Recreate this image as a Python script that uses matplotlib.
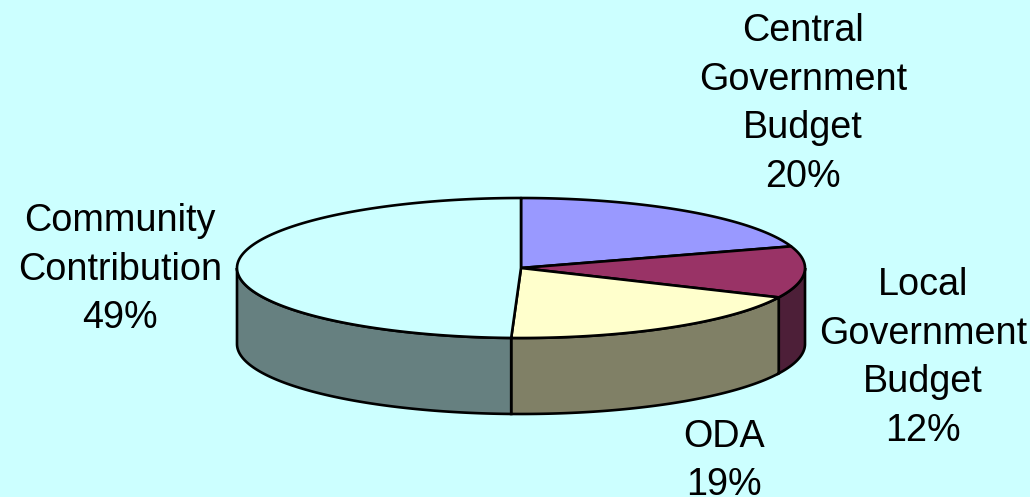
import numpy as np
import matplotlib
matplotlib.use("Agg")
import matplotlib.pyplot as plt
from matplotlib.patches import Polygon

categories = ["Central\nGovernment\nBudget", "Local\nGovernment\nBudget", "ODA", "Community\nContribution"]
values = [20.0, 11.9, 18.65, 49.45]
top_colors = ["#9999FF", "#993366", "#FFFFCC", "#CCFFFF"]
side_colors = ["#5F5F9F", "#4D1F38", "#808066", "#668080"]
label_xy = [(803, 104), (923, 358), (724, 461), (120, 269.5)]

BG = "#CCFFFF"
CX, CY, RX, RY, DEPTH = 521, 268, 284, 70, 76

fig = plt.figure(figsize=(10.30, 4.97), dpi=100, facecolor=BG)
ax = fig.add_axes([0, 0, 1, 1])
ax.set_xlim(0, 1030)
ax.set_ylim(497, 0)
ax.axis("off")
plt.rcParams["font.family"] = ["Liberation Sans", "DejaVu Sans"]


def pt(deg, dy=0):
    a = np.radians(deg)
    return CX + RX * np.cos(a), CY - RY * np.sin(a) + dy


fracs = np.array(values) / sum(values) * 360
ends = 90 - np.cumsum(fracs)
starts = np.r_[90, ends[:-1]]

# sides (visible front half only: angles between 0 and -180)
for s, e, c in zip(starts, ends, side_colors):
    hi, lo = min(s, 0), max(e, -180)
    if hi <= lo:
        continue
    th = np.linspace(hi, lo, 120)
    x, y = pt(th)
    xb, yb = pt(th, DEPTH)
    ax.add_patch(Polygon(np.r_[np.c_[x, y], np.c_[xb, yb][::-1]], closed=True,
                         facecolor=c, edgecolor="black", lw=1.9, zorder=2))

# top faces
for s, e, c in zip(starts, ends, top_colors):
    th = np.linspace(s, e, 200)
    x, y = pt(th)
    poly = np.r_[[[CX, CY]], np.c_[x, y]]
    ax.add_patch(Polygon(poly, closed=True, facecolor=c, edgecolor="black",
                         lw=1.9, joinstyle="round", zorder=3))

for name, v, (lx, ly) in zip(categories, values, label_xy):
    ax.text(lx, ly, f"{name}\n{round(v)}%", ha="center", va="center",
            fontsize=27.2, color="black", linespacing=1.46, zorder=4)

fig.savefig("out.png", dpi=100, facecolor=BG)
